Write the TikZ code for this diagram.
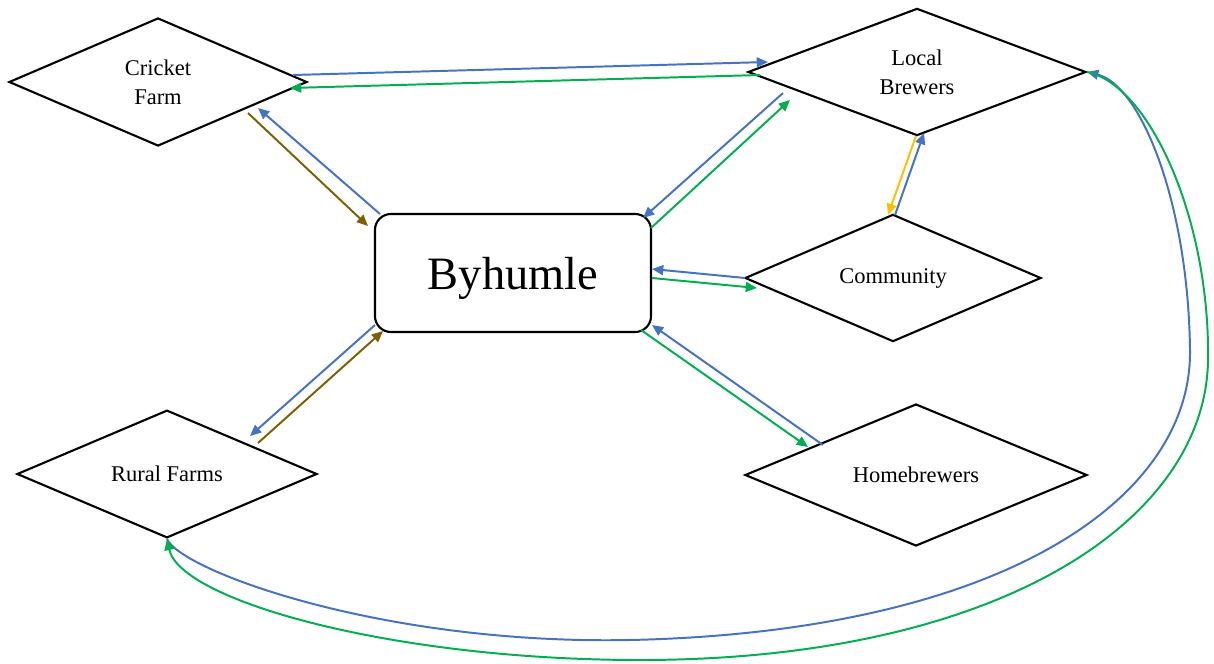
\documentclass[tikz,border=0pt]{standalone}
\usepackage{fontspec}
\setmainfont{Liberation Serif}
\usetikzlibrary{shapes.geometric,arrows.meta,calc}
\definecolor{flowblue}{HTML}{4472C4}
\definecolor{flowgreen}{HTML}{00B050}
\definecolor{flowbrown}{HTML}{7F6000}
\definecolor{flowyellow}{HTML}{FFC000}
\tikzset{
	dia/.style={diamond, draw, line width=1.5pt, align=center, inner sep=0pt,
		font=\fontsize{16}{20.5}\selectfont},
	hub/.style={draw, rounded corners=0.4cm, line width=1.5pt, text depth=0pt,
		minimum width=6.9cm, minimum height=2.95cm, font=\fontsize{33}{36}\selectfont},
	flow/.style={line width=1.4pt, -{Triangle[length=8pt,width=7pt]}},
}
\begin{document}
\begin{tikzpicture}[x=0.025cm, y=-0.025cm]
	\useasboundingbox (0,0) rectangle (1214,663);
	% Define the nodes with specific positions
	\node[hub] (by) at (513,273) {Byhumle};
	\node[dia, minimum width=7.45cm, minimum height=3.2cm] (cf) at (158,82) {Cricket\\Farm};
	\node[dia, minimum width=8.45cm, minimum height=3.18cm] (lb) at (917,72) {Local\\Brewers};
	\node[dia, minimum width=7.4cm, minimum height=3.13cm] (co) at (893,278) {Community};
	\node[dia, minimum width=8.55cm, minimum height=3.25cm] (hb) at (916,475) {Homebrewers};
	\node[dia, minimum width=7.5cm, minimum height=3.18cm] (rf) at (167,474) {Rural Farms};

	% Draw the flows between nodes
	\draw[flow, flowbrown] ($(cf)+(90,31)$) -- ($(by)+(-145,-47)$);
	\draw[flow, flowblue] ($(by)+(-133,-59)$) -- ($(cf)+(100,26)$);
	\draw[flow, flowblue] ($(cf)+(135,-7)$) -- ($(lb)+(-149,-10)$);
	\draw[flow, flowgreen] ($(lb)+(-157,3)$) -- ($(cf)+(132,6)$);
	\draw[flow, flowblue] ($(lb)+(-134,21)$) -- ($(by)+(130,-55)$);
	\draw[flow, flowgreen] ($(by)+(138,-45)$) -- ($(lb)+(-127,28)$);
	\draw[flow, flowblue] ($(co)+(2,-63)$) -- ($(lb)+(7,61)$);
	\draw[flow, flowyellow] ($(lb)+(-1,64)$) -- ($(co)+(-5,-63)$);
	\draw[flow, flowblue] ($(co)+(-148,0)$) -- ($(by)+(139,-4)$);
	\draw[flow, flowgreen] ($(by)+(139,5)$) -- ($(co)+(-136,10)$);
	\draw[flow, flowblue] ($(hb)+(-93,-30)$) -- ($(by)+(139,52)$);
	\draw[flow, flowgreen] ($(by)+(128,57)$) -- ($(hb)+(-108,-28)$);
	\draw[flow, flowblue] ($(by)+(-138,52)$) -- ($(rf)+(83,-38)$);
	\draw[flow, flowbrown] ($(rf)+(91,-31)$) -- ($(by)+(-130,58)$);

	% Long flows round the right side
	\draw[flow, flowblue] (rf.south) .. controls (180,570) and (380,645) .. (630,640)
		.. controls (1000,632) and (1192,500) .. (1190,350)
		.. controls (1188,200) and (1140,85) .. (lb.east);
	\draw[flow, flowgreen] (lb.east) .. controls (1150,85) and (1210,220) .. (1208,360)
		.. controls (1206,520) and (1000,660) .. (640,660)
		.. controls (390,660) and (180,600) .. (rf.south);
\end{tikzpicture}
\end{document}
